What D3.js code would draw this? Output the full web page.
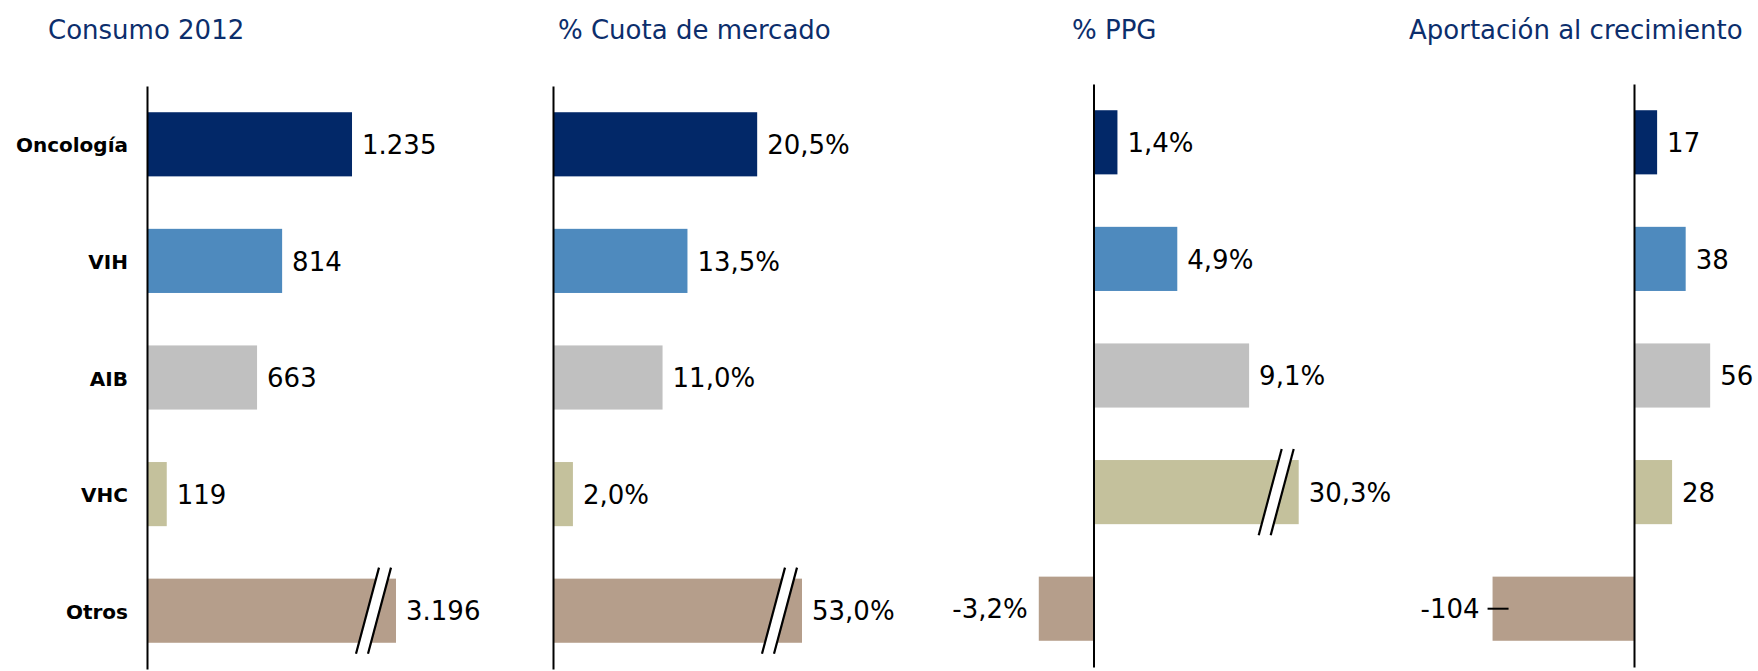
<!DOCTYPE html>
<html>
<head>
<meta charset="utf-8">
<script src="https://cdn.jsdelivr.net/npm/d3@7"></script>
<style>
  body { margin: 0; background: #fff; }
  text { font-family: "DejaVu Sans", Verdana, sans-serif; }
</style>
</head>
<body>
<svg id="chart" width="1758" height="671"></svg>
<script>
// the data
const categorias = ["Oncología", "VIH", "AIB", "VHC", "Otros"];
const titulos = ["Consumo 2012", "% Cuota de mercado", "% PPG", "Aportación al crecimiento"];
const consumo = [1235, 814, 663, 119, 3196];
const cuota = [20.5, 13.5, 11.0, 2.0, 53.0];
const ppg = [1.4, 4.9, 9.1, 30.3, -3.2];
const aportacion = [17, 38, 56, 28, -104];
const colores = ["#022868", "#4e8abe", "#c0c0c0", "#c4c19c", "#b59e8b"];

// formato en español (1.235 / 20,5%)
const es = d3.formatLocale({decimal: ",", thousands: ".", grouping: [3], currency: ["", " €"], minus: "-"});
const fmtMiles = es.format(",d");
const fmtPct = v => es.format(".1f")(v) + "%";

// posicion de cada panel (el dominio que se ve; lo que pasa del maximo se corta)
const paneles = [
  {titulo: titulos[0], valores: consumo,    fmt: fmtMiles, dominio: [0, 1500],  rango: [147, 396],       tx: 48,   dy: 0},
  {titulo: titulos[1], valores: cuota,      fmt: fmtPct,   dominio: [0, 25],    rango: [553, 802],       tx: 558,  dy: 0},
  {titulo: titulos[2], valores: ppg,        fmt: fmtPct,   dominio: [-4, 12],   rango: [1025.1, 1298.7], tx: 1072, dy: -2},
  {titulo: titulos[3], valores: aportacion, fmt: fmtMiles, dominio: [-110, 60], rango: [1484.4, 1715.6], tx: 1409, dy: -2, guia: true}
];

let svg = d3.select("#chart");

let color = d3.scaleOrdinal().domain(categorias).range(colores);

paneles.forEach(function (p, i) {
  let g = svg.append("g").attr("transform", "translate(0," + p.dy + ")");

  let x = d3.scaleLinear().domain(p.dominio).range(p.rango).clamp(true);
  let y = d3.scaleBand().domain(categorias).range([86, 669]).paddingInner(0.45).paddingOuter(0.225);
  let x0 = x(0);
  let filas = categorias.map((c, j) => ({cat: c, v: p.valores[j]}));

  // titulo
  svg.append("text")
      .attr("x", p.tx)
      .attr("y", 39)
      .attr("font-size", 26)
      .attr("fill", "#0c2e6c")
      .text(p.titulo);

  // barras
  g.selectAll("rect.barra")
    .data(filas)
    .enter()
    .append("rect")
      .attr("class", "barra")
      .attr("x", d => x(Math.min(0, d.v)))
      .attr("y", d => y(d.cat))
      .attr("width", d => Math.abs(x(d.v) - x0))
      .attr("height", y.bandwidth())
      .attr("fill", d => color(d.cat));

  // marcas de corte para los valores fuera de escala
  let cortes = filas.filter(d => d.v > p.dominio[1]);
  cortes.forEach(function (d) {
    let e = x(d.v), t = y(d.cat) - 11, b = y(d.cat) + y.bandwidth() + 11;
    g.append("polygon")
      .attr("points", [[e - 17, t], [e - 5, t], [e - 28, b], [e - 40, b]].join(" "))
      .attr("fill", "#fff");
    [[e - 17, e - 40], [e - 5, e - 28]].forEach(function (l) {
      g.append("line")
        .attr("x1", l[0]).attr("y1", t)
        .attr("x2", l[1]).attr("y2", b)
        .attr("stroke", "#000")
        .attr("stroke-width", 2.2);
    });
  });

  // etiquetas de valor
  g.selectAll("text.valor")
    .data(filas)
    .enter()
    .append("text")
      .attr("class", "valor")
      .attr("x", d => d.v < 0 ? x(d.v) - (p.guia ? 13 : 11) : x(d.v) + 10)
      .attr("y", d => y(d.cat) + y.bandwidth() / 2)
      .attr("dy", "0.37em")
      .attr("text-anchor", d => d.v < 0 ? "end" : "start")
      .attr("font-size", 26)
      .attr("fill", "#000")
      .text(d => p.fmt(d.v));

  // linea guia de la etiqueta negativa
  if (p.guia) {
    filas.filter(d => d.v < 0).forEach(function (d) {
      let yc = y(d.cat) + y.bandwidth() / 2;
      g.append("line")
        .attr("x1", x(d.v) - 5).attr("x2", x(d.v) + 16)
        .attr("y1", yc).attr("y2", yc)
        .attr("stroke", "#000")
        .attr("stroke-width", 2);
    });
  }

  // eje vertical (nombres solo en el primer panel)
  let eje = d3.axisLeft(y).tickSize(0).tickSizeOuter(0).tickPadding(19);
  if (i > 0) eje.tickFormat("");
  let ga = g.append("g")
      .attr("transform", "translate(" + x0 + ",0)")
      .call(eje);
  ga.select(".domain").attr("stroke", "#000").attr("stroke-width", 2);
  ga.selectAll("text")
      .attr("font-family", "DejaVu Sans, Verdana, sans-serif")
      .attr("font-size", 20)
      .attr("font-weight", "bold")
      .attr("fill", "#000")
      .attr("dy", "0.4em");
});
</script>
</body>
</html>
